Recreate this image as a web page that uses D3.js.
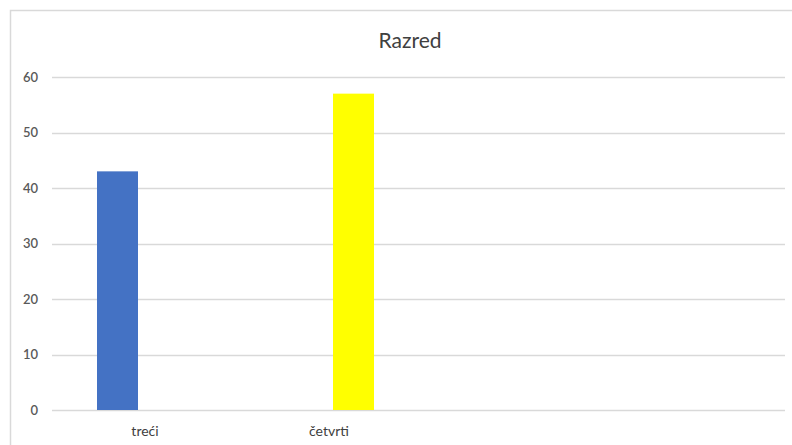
<!DOCTYPE html>
<html>
<head>
<meta charset="utf-8">
<script src="https://cdn.jsdelivr.net/npm/d3@7"></script>
<style>
html,body{margin:0;padding:0;background:#fff;}
svg{display:block;}
</style>
</head>
<body>
<svg id="chart" width="792" height="445"></svg>
<script>
const title = "Razred";
const categories = ["treći", "četvrti"];
const values = [43, 57];
const colors = ["#4472C4", "#FFFF00"];
const yTicks = [0, 10, 20, 30, 40, 50, 60];

const svg = d3.select("#chart");
const W = 792, H = 445;
const plot = {left: 52, right: 785, top: 77, bottom: 410};

// chart frame (top and left borders visible)
svg.append("path")
  .attr("d", `M10.5,${H} L10.5,10.5 L${W},10.5`)
  .attr("fill", "none").attr("stroke", "#d9d9d9").attr("stroke-width", 1.5);

const y = d3.scaleLinear().domain([0, 60]).range([plot.bottom, plot.top]);
// bar centres and label centres
const xBar = d3.scalePoint().domain(categories).range([117.5, 353.5]);
const xLab = d3.scalePoint().domain(categories).range([145, 329]);
const barW = 41;

// gridlines
svg.append("g").selectAll("line").data(yTicks).join("line")
  .attr("x1", plot.left).attr("x2", plot.right)
  .attr("y1", d => Math.round(y(d)) + 0.5).attr("y2", d => Math.round(y(d)) + 0.5)
  .attr("stroke", "#d9d9d9").attr("stroke-width", 1.3);

// y axis labels
const yAxis = d3.axisLeft(y).tickValues(yTicks).tickSize(0).tickPadding(0);
const gy = svg.append("g").attr("transform", `translate(38,0)`).call(yAxis);
gy.select(".domain").remove();
gy.selectAll("text")
  .attr("font-family", "Lato, 'Open Sans', sans-serif")
  .attr("font-size", 13).attr("font-weight", 600).attr("fill", "#595959");

// bars
svg.append("g").selectAll("rect").data(categories).join("rect")
  .attr("x", d => xBar(d) - barW / 2)
  .attr("width", barW)
  .attr("y", (d, i) => y(values[i]))
  .attr("height", (d, i) => y(0) - y(values[i]))
  .attr("fill", (d, i) => colors[i]);

// x labels
svg.append("g").selectAll("text").data(categories).join("text")
  .attr("x", d => xLab(d)).attr("y", 436)
  .attr("text-anchor", "middle")
  .attr("font-family", "Lato, 'Open Sans', sans-serif")
  .attr("font-size", 14).attr("fill", "#404040")
  .text(d => d);

// title
svg.append("text")
  .attr("x", 410).attr("y", 48)
  .attr("text-anchor", "middle")
  .attr("font-family", "Lato, 'Open Sans', sans-serif")
  .attr("font-size", 21).attr("fill", "#404040")
  .text(title);
</script>
</body>
</html>
